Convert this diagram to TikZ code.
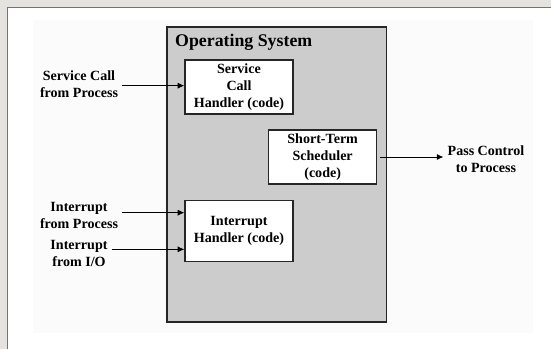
\documentclass[tikz,border=0pt]{standalone}
\usepackage{fontspec}
\setmainfont{Liberation Serif}
\usetikzlibrary{arrows, arrows.meta, calc}
\definecolor{slidegray}{HTML}{E4E3DF}
\definecolor{slideteal}{HTML}{1A9A9C}
\definecolor{panelwhite}{HTML}{FBFBFB}
\definecolor{osgray}{HTML}{CCCCCC}
\tikzset{
    codebox/.style args={#1and#2}{
        draw=black!85,
        line width=1pt,
        fill=white,
        align=center,
        minimum width=#1,
        minimum height=#2,
        inner sep=0pt,
        font=\fontsize{12}{14.5}\selectfont\bfseries,
    },
    sidelabel/.style={
        align=center,
        font=\fontsize{12}{14.5}\selectfont\bfseries,
    },
    flow/.style={
        -{Latex[length=2mm,width=1.8mm]},
        line width=0.8pt,
    }
}
\begin{document}
\begin{tikzpicture}

\useasboundingbox (0,0) rectangle (16.53cm,-10.47cm);

% slide background
\fill[slidegray] (0,0) rectangle (16.53cm,-10.47cm);
\fill[white] (0.225cm,-0.225cm) rectangle (16.53cm,-10.47cm);
\draw[slideteal, line width=1.3pt] (0.225cm,-10.47cm) -- (0.225cm,-0.225cm) -- (16.53cm,-0.225cm);
\fill[panelwhite] (0.99cm,-0.6cm) rectangle (15.99cm,-9.99cm);

\node[draw=black!85, line width=1pt, fill=osgray, minimum width=6.59cm, minimum height=8.85cm, inner sep=0pt] (os) at (8.305cm,-5.235cm) {};
\node[anchor=west, inner sep=0pt, font=\fontsize{15.2}{18}\selectfont\bfseries] (ostitle) at (5.25cm,-1.27cm) {Operating System};

\node[codebox=3.24cm and 1.62cm] (sch) at (7.17cm,-2.61cm) {Service\\Call\\Handler (code)};
\node[codebox=3.24cm and 1.62cm] (sts) at (9.68cm,-4.71cm) {Short-Term\\Scheduler\\(code)};
\node[codebox=3.24cm and 1.85cm] (ih) at (7.17cm,-6.93cm) {Interrupt\\Handler (code)};

\node[sidelabel] (scp) at (2.37cm,-2.53cm) {Service Call\\from Process};
\node[sidelabel] (ifp) at (2.37cm,-6.45cm) {Interrupt\\from Process};
\node[sidelabel] (ifio) at (2.37cm,-7.59cm) {Interrupt\\from I/O};
\node[sidelabel] (pcp) at (14.58cm,-4.77cm) {Pass Control\\to Process};

\draw[flow] ([yshift=-0.04cm]scp.east) -- ([yshift=-0.04cm]scp.east -| sch.west);
\draw[flow] ([yshift=0.07cm]ifp.east) -- ([yshift=0.07cm]ifp.east -| ih.west);
\draw[flow] ([yshift=0.11cm]ifio.east) -- ([yshift=0.11cm]ifio.east -| ih.west);
\draw[flow, shorten <=0.08cm] (sts.east) -- (sts.east -| pcp.west);

\end{tikzpicture}
\end{document}
